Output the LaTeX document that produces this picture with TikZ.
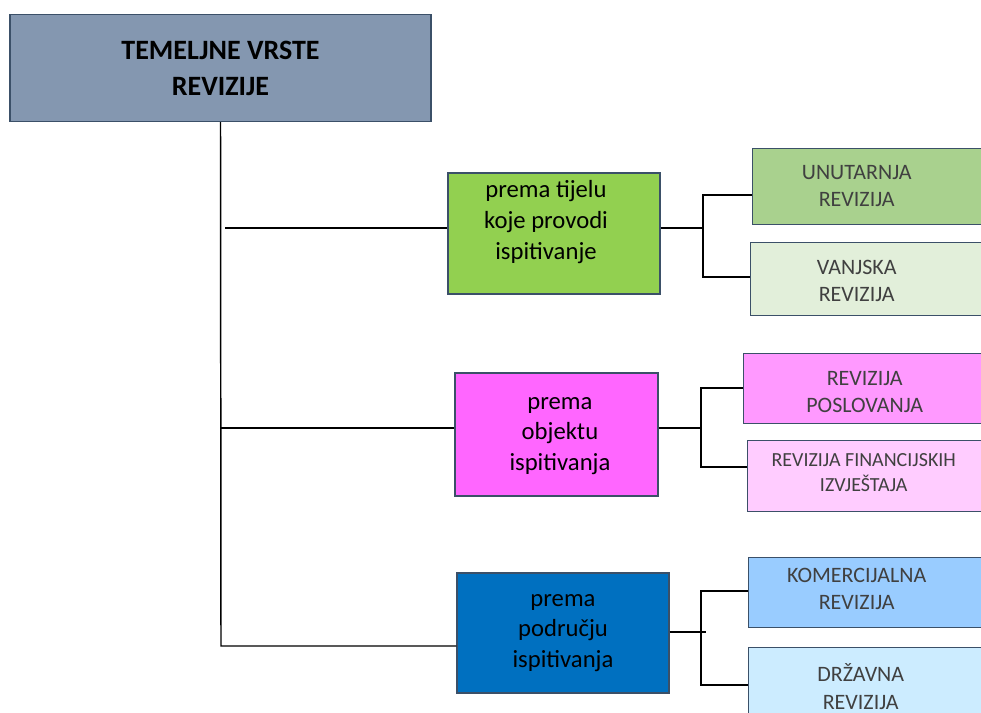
\documentclass[tikz,border=0pt]{standalone}
\usepackage{fontspec}
\setmainfont{Carlito}
\usepackage{xcolor}
\usepackage{tikz}

\definecolor{rim}{HTML}{3B5068}
\definecolor{topfill}{HTML}{8497B0}
\definecolor{grnfill}{HTML}{92D050}
\definecolor{unufill}{HTML}{A9D18E}
\definecolor{vanfill}{HTML}{E2EFDA}
\definecolor{pnkfill}{HTML}{FF66FF}
\definecolor{posfill}{HTML}{FF99FF}
\definecolor{finfill}{HTML}{FFCCFF}
\definecolor{blufill}{HTML}{0070C0}
\definecolor{komfill}{HTML}{99CCFF}
\definecolor{drzfill}{HTML}{CCECFF}
\definecolor{subtxt}{HTML}{404040}

\def\px{0.75pt}

\begin{document}
\begin{tikzpicture}[x=\px,y=-\px,
		mainbox/.style={draw=rim,line width=1.1pt,inner sep=0pt},
		midbox/.style={mainbox,minimum width=212*\px,minimum height=121*\px},
		subbox/.style={mainbox,anchor=north west,minimum width=260*\px},
		midtxt/.style={align=center,text=black,font=\fontsize{18.5}{23}\selectfont},
		subtxt/.style={align=center,text=subtxt,font=\fontsize{16.5}{20.5}\selectfont},
		conn/.style={draw=black,line width=1.1pt}]
	\useasboundingbox (0,0) rectangle (981,713);
	\clip (0,0) rectangle (981,713);

	\node[mainbox,fill=topfill,minimum width=421*\px,minimum height=107*\px,align=center,
		font=\bfseries\fontsize{21}{27}\selectfont] (temelj) at (220.5,68) {TEMELJNE VRSTE\\REVIZIJE};

	\node[midbox,fill=grnfill,label={[midtxt,xshift=-6pt,yshift=8.6pt]center:{prema tijelu\\koje provodi\\ispitivanje}}] (grn) at (554,233.5) {};
	\node[midbox,fill=pnkfill,minimum width=203*\px,minimum height=123*\px,label={[midtxt,xshift=2.6pt,yshift=-1pt]center:{prema\\objektu\\ispitivanja}}] (pnk) at (556.5,434.5) {};
	\node[midbox,fill=blufill,minimum height=120*\px,label={[midtxt]center:{prema\\području\\ispitivanja}}] (blu) at (563,633) {};

	\node[subbox,fill=unufill,minimum height=76*\px,label={[subtxt,xshift=-19.5pt,yshift=0.75pt]center:{UNUTARNJA\\REVIZIJA}}] (unu) at (752,148) {};
	\node[subbox,fill=vanfill,minimum height=73*\px,label={[subtxt,xshift=-18pt,yshift=-1.1pt]center:{VANJSKA\\REVIZIJA}}] (van) at (750,242) {};
	\node[subbox,fill=posfill,minimum height=70*\px,label={[subtxt,xshift=-6.75pt,yshift=-2.25pt]center:{REVIZIJA\\POSLOVANJA}}] (pos) at (743,353) {};
	\node[subbox,fill=finfill,minimum height=71*\px,label={[subtxt,font=\fontsize{15}{18.5}\selectfont,xshift=-10.5pt,yshift=2.6pt]center:{REVIZIJA FINANCIJSKIH\\IZVJEŠTAJA}}] (fin) at (747,440) {};
	\node[subbox,fill=komfill,minimum height=70*\px,label={[subtxt,xshift=-16.5pt,yshift=3pt]center:{KOMERCIJALNA\\REVIZIJA}}] (kom) at (748,557) {};
	\node[subbox,fill=drzfill,minimum height=70*\px,label={[subtxt,xshift=-13.5pt,yshift=-2.8pt]center:{DRŽAVNA\\REVIZIJA}}] (drz) at (748,647) {};

	% trunk and branches
	\coordinate (b1) at (225,228);
	\coordinate (b2) at (221,428);
	\coordinate (b3) at (221,646);
	\draw[conn] (temelj.south) -- (b3) -- (b3 -| blu.west);
	\draw[conn] (b1) -- (b1 -| grn.west);
	\draw[conn] (b2) -- (b2 -| pnk.west);

	% right forks
	\coordinate (s1) at (703,228);
	\coordinate (u1) at (703,195);
	\coordinate (v1) at (703,277);
	\draw[conn] (s1 -| grn.east) -- (s1);
	\draw[conn] (u1 -| unu.west) -- (u1) -- (v1) -- (v1 -| van.west);

	\coordinate (s2) at (701,428);
	\coordinate (p2) at (701,388);
	\coordinate (f2) at (701,467);
	\draw[conn] (s2 -| pnk.east) -- (s2);
	\draw[conn] (p2 -| pos.west) -- (p2) -- (f2) -- (f2 -| fin.west);

	\coordinate (s3) at (706,632);
	\coordinate (k3) at (701,591);
	\coordinate (d3) at (701,685);
	\draw[conn] (s3 -| blu.east) -- (s3);
	\draw[conn] (k3 -| kom.west) -- (k3) -- (d3) -- (d3 -| drz.west);
\end{tikzpicture}
\end{document}
